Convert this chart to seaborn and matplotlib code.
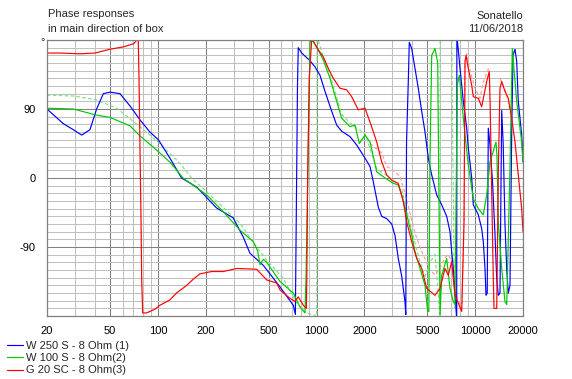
import numpy as np
import pandas as pd
import matplotlib
matplotlib.use("Agg")
import matplotlib.pyplot as plt
from matplotlib.ticker import LogLocator, MultipleLocator, NullFormatter
from matplotlib.lines import Line2D
import seaborn as sns

# --- data (frequency in Hz, phase in degrees) ---
blue_f = [20, 25.3, 29.3, 33.1, 37.3, 41.1, 45.3, 50, 57.7, 66.7,
          77, 89, 100.6, 119, 141, 176, 234, 298, 345, 380,
          462, 588, 713, 735, 748, 758, 767, 806, 909, 977,
          1051, 1130, 1246, 1339, 1440, 1624, 1790, 2019, 2172, 2278,
          2450, 2574, 2768, 2975, 3122, 3274, 3440, 3610, 3650, 3690,
          3790, 3840, 3976, 4172, 4376, 4598, 4824, 5060, 5316, 5716,
          6148, 6608, 6932, 7106, 7272, 7456, 7642, 7660, 7822, 8018,
          8412, 8836, 9044, 9500, 9724, 10454, 10980, 11240, 11520, 11690,
          11900, 12086, 12388, 12882, 13322, 13656, 13976, 14322, 14680, 15000,
          15400, 15800, 16156, 16560, 16974, 17300, 17806, 18250, 18680, 19620,
          20000]
blue_p = [90, 71, 63, 56, 63, 90, 110, 112, 110, 94,
          76, 60, 50, 26, 0, -12, -39, -52, -77, -98,
          -114, -142, -166, -178, -10, 120, 170, 163, 153, 145,
          134, 113, 87, 69, 61, 54, 43, 26, 15, -5,
          -38, -50, -53, -60, -75, -105, -128, -162, -178, 47,
          130, 177, 169, 143, 117, 87, 60, 26, 4, -22,
          -35, -50, -70, -96, -118, -150, -185, 185, 167, 143,
          100, 65, 39, 0, -35, -48, -66, -83, -118, -153,
          -150, 65, 43, -9, -74, -131, -153, -150, 88, 45,
          -60, -120, -150, -140, 60, 160, 168, 152, 100, 56,
          21]

green_f = [20, 29.3, 41, 50, 66.7, 77, 100, 120, 144, 203,
           258, 329, 399, 425, 440, 462, 485, 588, 713, 786,
           845, 858, 874, 890, 909, 954, 1025, 1102, 1215, 1339,
           1440, 1624, 1747, 1859, 2019, 2172, 2394, 2700, 3046, 3274,
           3440, 3698, 3976, 4172, 4486, 4824, 5016, 5100, 5186, 5316,
           5576, 5800, 6000, 6148, 6608, 6932, 7272, 7450, 7710, 7936,
           8218, 8622, 9044, 9724, 10454, 11240, 11808, 12388, 13518, 13700,
           13976, 14680, 15400, 15800, 16560, 17122, 18250, 19620, 20000]
green_p = [91, 90, 82, 79, 68, 55, 35, 20, 0, -22,
           -44, -68, -83, -95, -113, -106, -110, -135, -150, -168,
           -176, -130, -40, 60, 178, 178, 167, 154, 130, 100,
           78, 67, 69, 45, 56, 47, 8, 0, -7, -9,
           -22, -48, -74, -96, -118, -140, -174, -174, 26, 160,
           169, 150, -178, -127, -105, -144, -161, -165, 121, 134,
           100, 56, 17, -27, -40, -48, -22, 21, 47, 30,
           -57, -118, -161, -165, 15, 169, 100, 47, 21]

red_f = [20, 24.2, 32.3, 40.1, 50, 60.5, 70, 72.5, 74, 75.2,
         76, 77.1, 78.2, 79, 80.2, 85, 95.9, 103, 119, 131,
         152, 167, 184, 218, 258, 314, 419, 485, 561, 588,
         680, 731, 767, 825, 862, 868, 878, 900, 932, 1025,
         1102, 1185, 1275, 1405, 1548, 1665, 1832, 2019, 2172, 2394,
         2574, 2768, 2975, 3274, 3522, 3698, 3976, 4276, 4598, 4944,
         5576, 5998, 6448, 6764, 7106, 7456, 8218, 8498, 8622, 8748,
         9044, 9500, 9724, 10454, 10980, 11808, 12262, 12400, 12996, 13130,
         13656, 13774, 13976, 14322, 14680, 15400, 16156, 16974, 17806, 18680,
         19620, 20000]
red_p = [163, 163, 162, 163, 168, 171, 175, 178, 182, 180,
         132, 40, -50, -131, -176, -176, -171, -166, -159, -150,
         -140, -132, -125, -122, -122, -118, -119, -133, -137, -146,
         -157, -161, -155, -166, -170, -130, 0, 130, 182, 167,
         158, 143, 130, 117, 115, 106, 89, 91, 73, 47,
         21, 4, -3, -7, -31, -57, -83, -105, -118, -144,
         -153, -144, -118, -127, -109, -153, -174, -57, 152, 160,
         143, 121, 106, 104, 93, 126, 139, 100, -131, -170,
         -170, -109, 8, 117, 126, 113, 104, 78, 47, 4,
         -40, -70]

# dashed reference traces
lgreen_f = [20, 29.3, 41, 55, 77, 100, 138, 163, 203, 329,
            419, 485, 617, 750, 860, 977, 1002, 1008, 1102, 1215,
            1339, 1440, 1624, 1790, 2019, 2394, 2700, 3046, 3440, 3976,
            4486, 4824, 5186, 5576, 5800, 6000, 6010, 7100, 7400]
lgreen_p = [108, 107, 102, 91, 67, 47, 19, 0, -18, -59,
            -90, -107, -131, -163, -176, -179, -185, 185, 158, 135,
            105, 83, 72, 65, 58, 12, 5, -3, -15, -68,
            -110, -128, -110, -100, -140, -185, 185, 185, -170]

pink_f = [2172, 2394, 2574, 2768, 3046, 3356, 3610, 3880, 4172, 4598,
          5186, 5576, 5998, 6448, 6764, 7106, 7456, 8218, 8498, 8622,
          8836, 9270, 9966, 10714, 11240, 12086, 12262,
          14322, 15400, 16156, 16560]
pink_p = [45, 38, 33, 15, 10, 2, -20, -46, -72, -96,
          -120, -126, -118, -104, -100, -110, -150, -170, -60, 150,
          162, 140, 117, 104, 125, 142, 140,
          130, 115, 100, 85]
pink_seg = [0] * 27 + [1] * 4

labels = ["W 250 S - 8 Ohm (1)", "W 100 S - 8 Ohm(2)", "G 20 SC - 8 Ohm(3)"]
xticks = [20, 50, 100, 200, 500, 1000, 2000, 5000, 10000, 20000]
yticks = [-90, 0, 90]

# --- style ---
sns.set_style("white")
plt.rcParams["font.family"] = ["Liberation Sans", "DejaVu Sans"]
plt.rcParams["font.size"] = 8
plt.rcParams["axes.unicode_minus"] = False

fig = plt.figure(figsize=(5.72, 3.79), dpi=100)
ax = fig.add_axes([47 / 572, 1 - 316 / 379, 476 / 572, 276 / 379])
ax.set_xscale("log")

lw = 0.85
sns.lineplot(data=pd.DataFrame({"f": lgreen_f, "p": lgreen_p}), x="f", y="p",
             sort=False, estimator=None, color="#80e080", lw=lw,
             linestyle=(0, (3, 2)), ax=ax)
sns.lineplot(data=pd.DataFrame({"f": pink_f, "p": pink_p, "s": pink_seg}), x="f", y="p",
             units="s", sort=False, estimator=None, color="#ff9a9a", lw=lw,
             linestyle=(0, (3, 2)), ax=ax)

for f, p, c in [(blue_f, blue_p, "#0000ff"),
                (green_f, green_p, "#00c800"),
                (red_f, red_p, "#ff0000")]:
    sns.lineplot(data=pd.DataFrame({"f": f, "p": p}), x="f", y="p",
                 sort=False, estimator=None, color=c, lw=lw, ax=ax)

if ax.get_legend() is not None:
    ax.get_legend().remove()

ax.set_xlim(20, 20000)
ax.set_ylim(-180, 180)
ax.set_xlabel("")
ax.set_ylabel("")

ax.set_xticks(xticks)
ax.set_xticklabels([str(t) for t in xticks])
ax.xaxis.set_minor_locator(LogLocator(base=10, subs=np.arange(1, 10), numticks=30))
ax.xaxis.set_minor_formatter(NullFormatter())
ax.set_yticks(yticks)
ax.set_yticklabels([str(t) for t in yticks])
ax.yaxis.set_minor_locator(MultipleLocator(10))

ax.set_axisbelow(True)
ax.grid(which="minor", color="#c0c0c0", lw=0.75)
ax.grid(which="major", color="#808080", lw=0.75)
ax.tick_params(which="minor", length=0)
ax.tick_params(which="major", length=3, width=0.75, color="black",
               labelsize=8, labelcolor="black")
ax.tick_params(axis="y", pad=5)
ax.tick_params(axis="x", pad=4)
for s in ax.spines.values():
    s.set_color("#808080")
    s.set_linewidth(0.9)

fig.text(40 / 572, 1 - 45 / 379, "°", fontsize=8)

fig.text(47.5 / 572, 1 - 17 / 379, "Phase responses", va="baseline", fontsize=8)
fig.text(47.5 / 572, 1 - 32.3 / 379, "in main direction of box", va="baseline", fontsize=8)
fig.text(523.5 / 572, 1 - 19.3 / 379, "Sonatello", ha="right", va="baseline", fontsize=8)
fig.text(523.5 / 572, 1 - 32.3 / 379, "11/06/2018", ha="right", va="baseline", fontsize=8)

handles = [Line2D([], [], color=c, lw=lw) for c in ["#0000ff", "#00c800", "#ff0000"]]
fig.legend(handles, labels, loc="upper left", bbox_to_anchor=(7 / 572, 1 - 341 / 379),
           frameon=False, fontsize=8, handlelength=1.45, handletextpad=0.3,
           labelspacing=0.2, borderpad=0, borderaxespad=0)

fig.savefig("out.png", dpi=100)
